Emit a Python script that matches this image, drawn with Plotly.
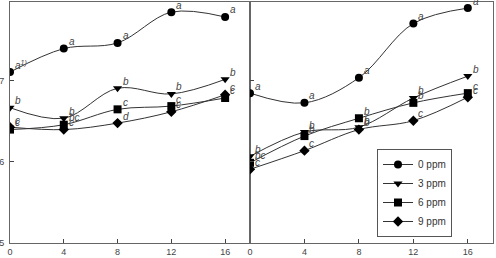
import plotly.graph_objects as go
from plotly.subplots import make_subplots

days = [0, 4, 8, 12, 16]
series_names = ["0 ppm", "3 ppm", "6 ppm", "9 ppm"]
symbols = ["circle", "triangle-down", "square", "diamond"]

# left panel values
left_0 = [7.11, 7.40, 7.47, 7.85, 7.79]
left_3 = [6.67, 6.54, 6.91, 6.84, 7.02]
left_6 = [6.40, 6.46, 6.65, 6.69, 6.79]
left_9 = [6.43, 6.40, 6.48, 6.62, 6.83]
# right panel values
right_0 = [6.85, 6.73, 7.04, 7.71, 7.90]
right_3 = [6.07, 6.37, 6.43, 6.79, 7.06]
right_6 = [5.99, 6.32, 6.54, 6.73, 6.85]
right_9 = [5.91, 6.14, 6.40, 6.51, 6.80]

# significance letters
left_lab_0 = ["a<sup>1)</sup>", "a", "a", "a", "a"]
left_lab_3 = ["b", "b", "b", "b", "b"]
left_lab_6 = ["c", "bc", "c", "c", "c"]
left_lab_9 = ["c", "c", "d", "c", "c"]
right_lab_0 = ["a", "a", "a", "a", "a"]
right_lab_3 = ["b", "b", "b", "b", "b"]
right_lab_6 = ["bc", "b", "b", "b", "c"]
right_lab_9 = ["c", "c", "b", "c", "c"]

x_ticks = [0, 4, 8, 12, 16]
y_ticks = [5, 6, 7, 8]
y_ticktext = ["5", "6", "7", "8"]

left = [left_0, left_3, left_6, left_9]
right = [right_0, right_3, right_6, right_9]
left_labs = [left_lab_0, left_lab_3, left_lab_6, left_lab_9]
right_labs = [right_lab_0, right_lab_3, right_lab_6, right_lab_9]

W, H = 496, 258
fig = make_subplots(rows=1, cols=2, horizontal_spacing=0)

line_col = "#333333"
for i, name in enumerate(series_names):
    for col, data in ((1, left), (2, right)):
        fig.add_trace(go.Scatter(
            x=days, y=data[i], name=name, mode="lines+markers",
            line=dict(color=line_col, width=1, shape="spline", smoothing=1),
            marker=dict(symbol=symbols[i], size=8, color="black", line=dict(width=0)),
            showlegend=(col == 2), legendgroup=name,
        ), row=1, col=col)

annots = []
for col, data, labs in ((1, left, left_labs), (2, right, right_labs)):
    xr = "x" if col == 1 else "x2"
    yr = "y" if col == 1 else "y2"
    for i in range(4):
        for j, d in enumerate(days):
            annots.append(dict(
                x=d, y=data[i][j], xref=xr, yref=yr, text="<i>" + labs[i][j] + "</i>",
                showarrow=False, xanchor="left", yanchor="middle",
                xshift=3, yshift=7, font=dict(size=10, color="#444444"),
            ))

axis_common = dict(
    showline=True, linecolor="#666666", linewidth=1, mirror=True,
    ticks="inside", ticklen=4, tickcolor="#444444", showgrid=False, zeroline=False,
    tickfont=dict(size=9, color="#444444"),
)
xdom1 = [10 / W, 250 / W]
xdom2 = [250 / W, 493 / W]
ydom = [(H - 243) / H, (H - 2) / H]
fig.update_xaxes(range=[0, 17.85], tickvals=x_ticks, automargin=False, **axis_common)
fig.update_xaxes(domain=xdom1, row=1, col=1)
fig.update_xaxes(domain=xdom2, row=1, col=2)
fig.update_yaxes(range=[5, 7.975], tickvals=y_ticks, ticktext=y_ticktext,
                 automargin=False, domain=ydom, ticklabelstandoff=3, **axis_common)
fig.update_yaxes(showticklabels=False, row=1, col=2)

fig.update_layout(
    width=W, height=H, margin=dict(l=0, r=0, t=0, b=0),
    paper_bgcolor="white", plot_bgcolor="white",
    font=dict(family="Liberation Sans, Arial, sans-serif", color="#333333"),
    annotations=annots,
    legend=dict(x=452 / W, y=(H - 237) / H, xanchor="right", yanchor="bottom",
                bordercolor="#555555", borderwidth=1, bgcolor="white",
                font=dict(size=10, color="#333333"), itemwidth=30,
                tracegroupgap=0),
)
fig.write_html("out.html")
